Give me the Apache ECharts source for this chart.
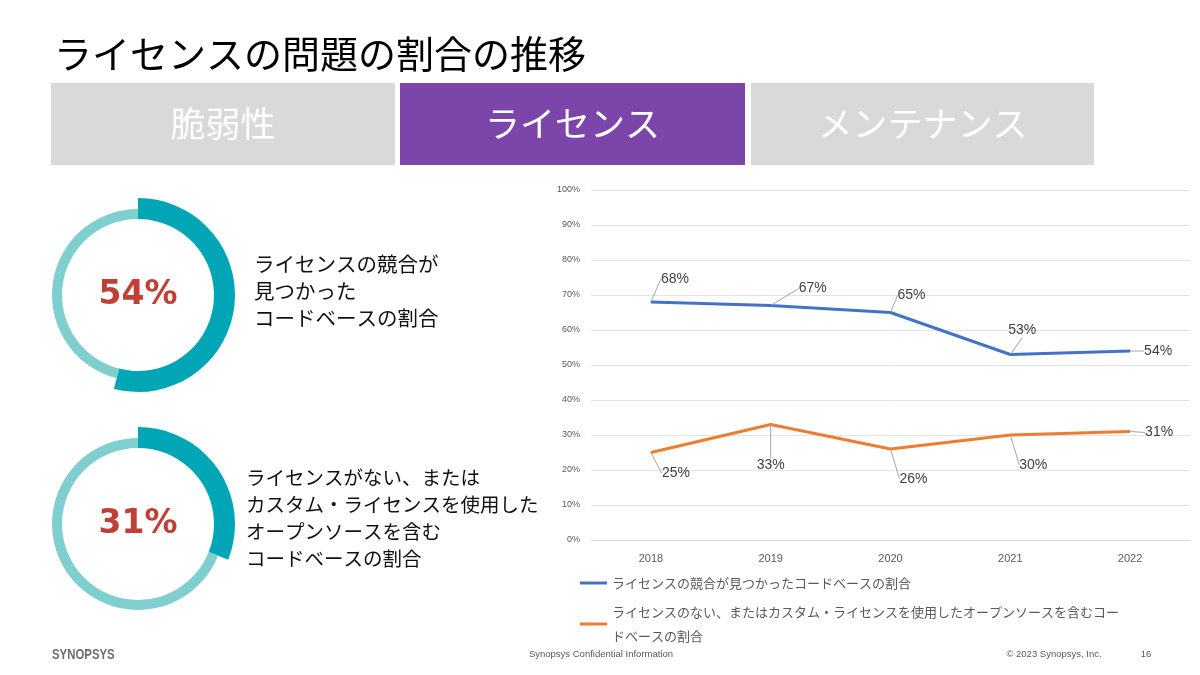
<!DOCTYPE html>
<html>
<head>
<meta charset="utf-8">
<script src="https://cdn.jsdelivr.net/npm/echarts@6/dist/echarts.min.js"></script>
<style>
html,body{margin:0;padding:0;background:#fff;}
#c{width:1200px;height:675px;}
</style>
</head>
<body>
<div id="c"></div>
<script>
// ---- data ----
const pageTitle = 'ライセンスの問題の割合の推移';
const tabLabels = ['脆弱性', 'ライセンス', 'メンテナンス'];
const activeTab = 1;
const donutValues = [54, 31];
const donutTexts = [
  'ライセンスの競合が\n見つかった\nコードベースの割合',
  'ライセンスがない、または\nカスタム・ライセンスを使用した\nオープンソースを含む\nコードベースの割合'
];
const years = ['2018', '2019', '2020', '2021', '2022'];
const seriesNames = [
  'ライセンスの競合が見つかったコードベースの割合',
  'ライセンスのない、またはカスタム・ライセンスを使用したオープンソースを含むコードベースの割合'
];
const conflictValues = [68, 67, 65, 53, 54];
const noLicenseValues = [25, 33, 26, 30, 31];
const yTicks = [0, 10, 20, 30, 40, 50, 60, 70, 80, 90, 100];
const footerCenter = 'Synopsys Confidential Information';
const footerRight = '© 2023 Synopsys, Inc.';
const pageNumber = '16';
const logoText = 'SYNOPSYS';

// ---- styling ----
const JP = '"Noto Sans CJK JP", "Noto Sans", sans-serif';
const BLUE = '#4472C4', ORANGE = '#ED7D31';
const TEAL = '#00A6B6', TEAL_LIGHT = '#80CFCF';
const labelOffsets = [
  [[24, -23], [42, -17], [21, -17], [12, -24], [28, 0]],
  [[25, 21], [0, 41], [23, 30], [23, 30], [29, 1]]
];

const chart = echarts.init(document.getElementById('c'), null, {renderer: 'canvas'});

const graphics = [];
graphics.push({
  type: 'text', left: 54, top: 35,
  style: {text: pageTitle, font: '38px ' + JP, fill: '#000'}
});
const tabX = [51, 400, 751], tabW = [344, 345, 343];
tabLabels.forEach((t, i) => {
  graphics.push({
    type: 'rect', shape: {x: tabX[i], y: 83, width: tabW[i], height: 82},
    style: {fill: i === activeTab ? '#7C45AA' : '#D9D9D9'}
  });
  graphics.push({
    type: 'text', x: tabX[i] + tabW[i] / 2, y: 124,
    style: {text: t, font: '35px ' + JP, fill: '#fff', textAlign: 'center', textVerticalAlign: 'middle'}
  });
});
const donutCenters = [[138, 295], [138, 524]];
graphics.push({
  type: 'text', left: 254, top: 251,
  style: {text: donutTexts[0], font: '20.5px ' + JP, fill: '#111', lineHeight: 27}
});
graphics.push({
  type: 'text', left: 246, top: 464,
  style: {text: donutTexts[1], font: '19.5px ' + JP, fill: '#111', lineHeight: 27}
});
graphics.push({
  type: 'text', x: 52, y: 647, scaleX: 0.76, originX: 0,
  style: {text: logoText, font: 'bold 15px "Liberation Sans", sans-serif', fill: '#6D6E71'}
});
graphics.push({
  type: 'text', x: 601, y: 654,
  style: {text: footerCenter, font: '9.5px "Liberation Sans", sans-serif', fill: '#595959', textAlign: 'center', textVerticalAlign: 'middle'}
});
graphics.push({
  type: 'text', x: 1054, y: 654,
  style: {text: footerRight, font: '9.5px "Liberation Sans", sans-serif', fill: '#595959', textAlign: 'center', textVerticalAlign: 'middle'}
});
graphics.push({
  type: 'text', x: 1146, y: 654,
  style: {text: pageNumber, font: '9.5px "Liberation Sans", sans-serif', fill: '#595959', textAlign: 'center', textVerticalAlign: 'middle'}
});

const pieSeries = [];
donutValues.forEach((v, i) => {
  pieSeries.push({
    type: 'pie', center: donutCenters[i], radius: [76, 97], startAngle: 90, clockwise: true,
    silent: true, emphasis: {disabled: true}, animation: false,
    label: {show: false}, labelLine: {show: false},
    data: [
      {value: v, name: 'a' + i, itemStyle: {color: TEAL},
       label: {show: true, position: 'center', formatter: '{c}%',
               fontSize: 33, fontWeight: 'bold', fontFamily: '"DejaVu Sans", sans-serif', color: '#BF4036'}},
      {value: 100 - v, name: 'b' + i, itemStyle: {color: 'rgba(0,0,0,0)'}}
    ]
  });
  pieSeries.push({
    type: 'pie', center: donutCenters[i], radius: [76, 86], startAngle: 90, clockwise: true,
    silent: true, emphasis: {disabled: true}, animation: false,
    label: {show: false}, labelLine: {show: false},
    data: [
      {value: v, name: 'c' + i, itemStyle: {color: 'rgba(0,0,0,0)'}},
      {value: 100 - v, name: 'd' + i, itemStyle: {color: TEAL_LIGHT}}
    ]
  });
});

function lineSeries(name, values, color, idx) {
  return {
    type: 'line', name: name, data: values,
    symbol: 'circle', symbolSize: 1, showSymbol: true,
    itemStyle: {color: color},
    lineStyle: {color: color, width: 3},
    animation: false,
    label: {show: true, position: 'inside', formatter: '{c}%', fontSize: 14,
            fontFamily: '"Liberation Sans", sans-serif', color: '#404040'},
    labelLine: {show: true, lineStyle: {color: '#A6A6A6', width: 1}},
    labelLayout: function (p) {
      const o = labelOffsets[idx][p.dataIndex];
      return {dx: o[0], dy: o[1]};
    }
  };
}

const option = {
  backgroundColor: '#fff',
  animation: false,
  graphic: graphics,
  grid: {left: 591, right: 10, top: 190, bottom: 135},
  xAxis: {
    type: 'category', data: years, boundaryGap: true,
    axisLine: {show: true, lineStyle: {color: '#D9D9D9'}},
    axisTick: {show: false},
    axisLabel: {color: '#595959', fontSize: 11, margin: 13, fontFamily: '"Liberation Sans", sans-serif'}
  },
  yAxis: {
    type: 'value', min: 0, max: 100, interval: 10,
    axisLine: {show: false}, axisTick: {show: false},
    splitLine: {lineStyle: {color: '#E3E3E3', width: 1}},
    axisLabel: {color: '#595959', fontSize: 9, margin: 11, formatter: '{value}%',
                fontFamily: '"Liberation Sans", sans-serif'}
  },
  legend: {
    orient: 'vertical', left: 575, top: 566, itemGap: 5,
    icon: 'rect', itemWidth: 27, itemHeight: 3,
    data: seriesNames,
    textStyle: {color: '#595959', fontSize: 13, fontFamily: JP, lineHeight: 24,
                width: 512, overflow: 'break'}
  },
  series: [
    lineSeries(seriesNames[0], conflictValues, BLUE, 0),
    lineSeries(seriesNames[1], noLicenseValues, ORANGE, 1)
  ].concat(pieSeries)
};
chart.setOption(option);
</script>
</body>
</html>
